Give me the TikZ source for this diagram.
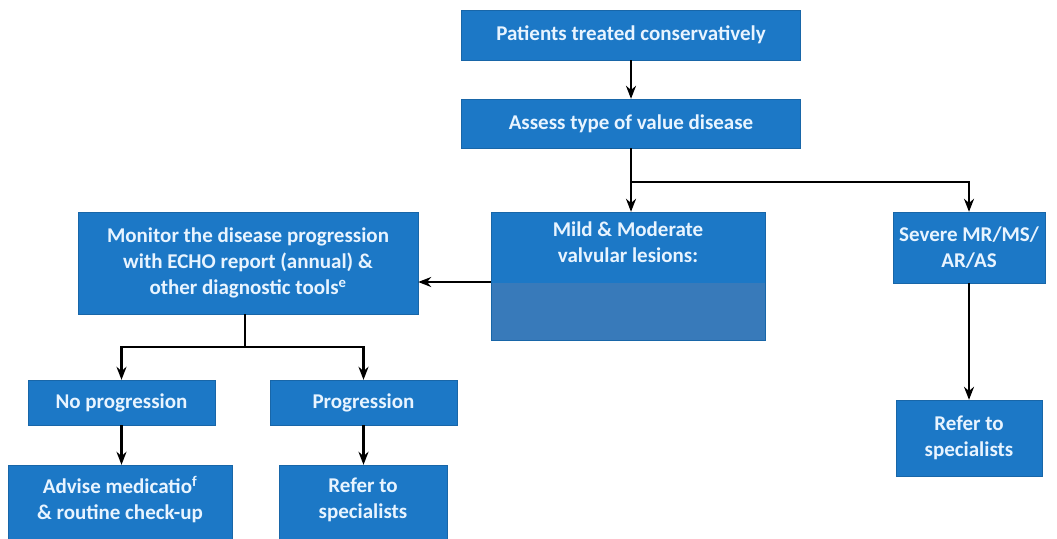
\documentclass[tikz,border=0pt]{standalone}
\usepackage{fontspec}
\setmainfont{Carlito}
\usetikzlibrary{positioning}
\usetikzlibrary{arrows.meta}

\definecolor{boxblue}{RGB}{28,120,198}
\definecolor{bandblue}{RGB}{56,122,186}
\definecolor{boxtext}{RGB}{232,244,255}

\begin{document}
\begin{tikzpicture}[x=1pt,y=-1pt]
        \useasboundingbox (0,0) rectangle (1057,538);

        \begin{scope}[every node/.style={rectangle,fill=boxblue,draw=boxblue!85!black,
            text=boxtext,font=\fontsize{21}{26}\selectfont\bfseries,align=center,
            inner sep=0pt}]
            \node[minimum width=339,minimum height=50] (patients) at (631,35) {Patients treated conservatively};
            \node[minimum width=339,minimum height=49] (assess) at (631,123.5) {Assess type of value disease};
            \node[minimum width=274,minimum height=128,
                path picture={\fill[bandblue] ([yshift=57]path picture bounding box.south west)
                    rectangle (path picture bounding box.south east);}] (mild) at (628,276) {};
            \node[minimum width=152,minimum height=71] (severe) at (969,247.5) {Severe MR/MS/\\AR/AS};
            \node[minimum width=340,minimum height=102] (monitor) at (248,263) {Monitor the disease progression\\with ECHO report (annual) \&\\other diagnostic tools\textsuperscript{e}};
            \node[minimum width=187,minimum height=45] (noprog) at (121.5,402.5) {No progression};
            \node[minimum width=187,minimum height=45] (prog) at (363.5,402.5) {Progression};
            \node[minimum width=224,minimum height=80,text depth=14] (advise) at (120,505) {Advise medicatio\textsuperscript{f}\\\& routine check-up};
            \node[minimum width=168,minimum height=80,text depth=14] (refera) at (363,505) {Refer to\\specialists};
            \node[minimum width=146,minimum height=76] (referb) at (969,438) {Refer to\\specialists};
        \end{scope}
        \node[text=boxtext,font=\fontsize{21}{26}\selectfont\bfseries,align=center]
            (mildtext) at (628,242) {Mild \& Moderate\\valvular lesions:};

        \begin{scope}[>={Stealth[black,length=13pt,width=10pt]},line width=2.2pt]
            \coordinate (split) at (631,182);
            \coordinate (fork) at (245,347);
            \draw [->] (patients) -- (assess);
            \draw (assess.south) -- (split);
            \draw [->] (split) -- (mild.north -| split);
            \draw [->] (split) -| (severe.north);
            \draw [->] ([yshift=-6]mild.west) -- ([yshift=-6]mild.west -| monitor.east);
            \draw (monitor.south -| fork) -- (fork);
            \draw [->] (fork) -| (noprog.north);
            \draw [->] (fork) -| (prog.north);
            \draw [->] (noprog) -- (advise.north -| noprog);
            \draw [->] (prog) -- (refera.north -| prog);
            \draw [->] (severe) -- (referb);
        \end{scope}
    \end{tikzpicture}
\end{document}
